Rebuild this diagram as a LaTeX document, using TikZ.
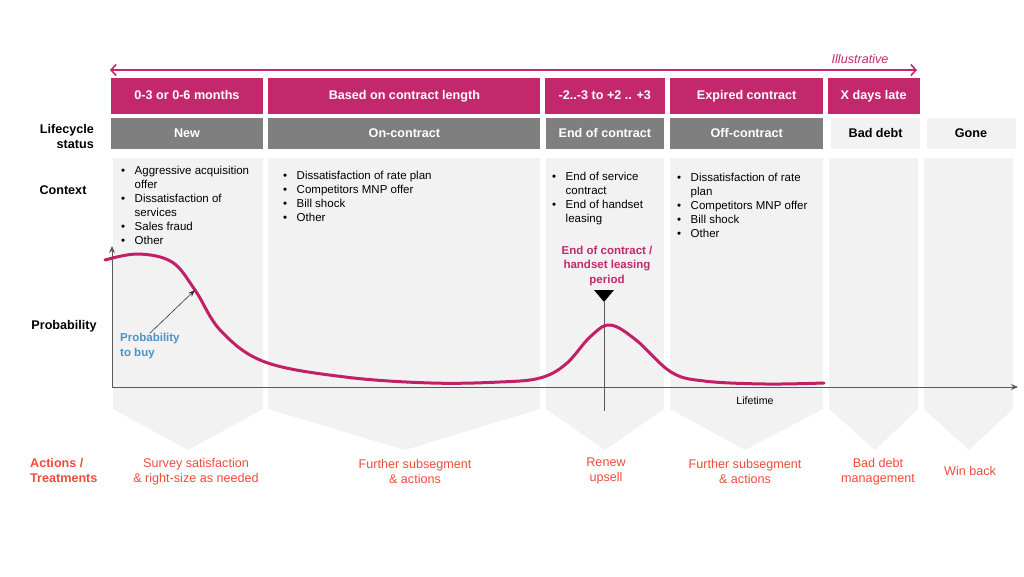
\documentclass[tikz,border=0pt]{standalone}
\usepackage{fontspec}
\setmainfont{Liberation Sans}
\usetikzlibrary{positioning,arrows.meta}
\definecolor{berry}{HTML}{C4286C}
\definecolor{curvepink}{HTML}{C21F66}
\definecolor{midgray}{HTML}{7F7F7F}
\definecolor{palegray}{HTML}{F2F2F2}
\definecolor{coral}{HTML}{F04B3A}
\definecolor{skyblue}{HTML}{4F92C4}
\definecolor{axisgray}{HTML}{595959}

\begin{document}
\begin{tikzpicture}[x=1pt, y=-1pt,
    every node/.style={inner sep=0pt, font=\fontsize{11.5}{14}\selectfont},
    period/.style={fill=berry, text=white, minimum height=36pt, text height=9pt, text depth=2.7pt, font=\fontsize{12.6}{15}\selectfont\bfseries},
    status/.style={fill=midgray, text=white, minimum height=31pt, text height=9pt, text depth=2.7pt, font=\fontsize{12.6}{15}\selectfont\bfseries},
    lightstatus/.style={status, fill=palegray, text=black},
    rowlabel/.style={font=\fontsize{12.6}{15}\selectfont\bfseries},
    bullets/.style={anchor=north west},
    action/.style={text=coral, align=center, font=\fontsize{12.6}{15}\selectfont}]
    \useasboundingbox (0,0) rectangle (1024,576);

    % column backgrounds with chevrons
    \foreach \l/\r/\m in {113/263/188, 268/540/405, 546/664/605, 670/823/745, 829/918/875, 924/1013/969}
        \fill[palegray] (\l,158) -- (\r,158) -- (\r,409) -- (\m,450) -- (\l,409) -- cycle;

    % periods
    \node (p1) [period, minimum width=152pt] at (187,96) {0-3 or 0-6 months};
    \node (p2) [period, minimum width=272pt, right=5pt of p1] {Based on contract length};
    \node (p3) [period, minimum width=120pt, right=4pt of p2] {-2..-3 to +2 .. +3};
    \node (p4) [period, minimum width=153pt, right=5pt of p3] {Expired contract};
    \node (p5) [period, minimum width=92pt, right=4pt of p4] {X days late};

    % lifecycle status
    \node (s1) [status, minimum width=152pt, below=4pt of p1] {New};
    \node (s2) [status, minimum width=272pt, below=4pt of p2] {On-contract};
    \node (s3) [status, minimum width=118pt, below=4pt of p3] {End of contract};
    \node (s4) [status, minimum width=153pt, below=4pt of p4] {Off-contract};
    \node (s5) [lightstatus, minimum width=89pt, below=4pt of p5, xshift=2pt] {Bad debt};
    \node (s6) [lightstatus, minimum width=89pt, right=6pt of s5] {Gone};

    % row labels
    \node (lifecycle) [rowlabel, align=right, anchor=east] at (94,136) {Lifecycle\\status};
    \node (context) [rowlabel] at (63,190) {Context};
    \node (prob) [rowlabel] at (64,326) {Probability};
    \node (actions) [rowlabel, text=coral, align=left, anchor=west] at (30,470) {Actions /\\Treatments};

    % context
    \node (c1) [bullets] at (121,164) {\begin{tabular}{@{}l@{\hspace{9.5pt}}l@{}}
        \textbullet & Aggressive acquisition\\ & offer\\
        \textbullet & Dissatisfaction of\\ & services\\
        \textbullet & Sales fraud\\
        \textbullet & Other\end{tabular}};
    \node (c2) [bullets] at (283,169) {\begin{tabular}{@{}l@{\hspace{9.5pt}}l@{}}
        \textbullet & Dissatisfaction of rate plan\\
        \textbullet & Competitors MNP offer\\
        \textbullet & Bill shock\\
        \textbullet & Other\end{tabular}};
    \node (c3) [bullets] at (552,170) {\begin{tabular}{@{}l@{\hspace{9.5pt}}l@{}}
        \textbullet & End of service\\ & contract\\
        \textbullet & End of handset\\ & leasing\end{tabular}};
    \node (c4) [bullets] at (677,171) {\begin{tabular}{@{}l@{\hspace{9.5pt}}l@{}}
        \textbullet & Dissatisfaction of rate\\ & plan\\
        \textbullet & Competitors MNP offer\\
        \textbullet & Bill shock\\
        \textbullet & Other\end{tabular}};

    % timeline arrow
    \coordinate (spanl) at (110,70);
    \coordinate (spanr) at (917,70);
    \draw[berry, line width=1.6pt, {Straight Barb[length=5pt,width=11pt]}-{Straight Barb[length=5pt,width=11pt]}] (spanl) -- (spanr);
    \node (illus) [text=berry, font=\fontsize{12.6}{15}\selectfont\itshape] at (860,59) {Illustrative};

    % axes
    \coordinate (origin) at (112,387);
    \coordinate (ytop) at (112,246);
    \coordinate (xend) at (1018,387);
    \draw[axisgray, line width=1pt, -{Stealth[length=7pt,width=6pt]}] (origin) -- (ytop);
    \draw[axisgray, line width=1pt, -{Stealth[length=7pt,width=6pt]}] (origin) -- (xend);
    \node (lifetime) [font=\fontsize{10.6}{12}\selectfont] at (755,401) {Lifetime};

    % end of contract marker
    \coordinate (mark) at (604,302);
    \coordinate (markfoot) at (604,411);
    \fill (594,290) -- (614,290) -- (mark) -- cycle;
    \draw[axisgray, line width=0.9pt] (mark) -- (markfoot);
    \node (eoc) [text=berry, align=center, font=\fontsize{11.5}{14.5}\selectfont\bfseries] at (607,266) {End of contract /\\handset leasing\\period};

    % probability curve
    \draw[curvepink, line width=3pt, line cap=round] plot[smooth, tension=0.6] coordinates {(105,260) (138,254) (172,262) (195,290) (221,331) (265,362) (345,377) (431,383) (500,382) (540,378) (566,364) (590,337) (610,325) (636,340) (671,372) (704,381) (765,384) (824,383)};

    \node (buy) [text=skyblue, align=left, anchor=west, font=\fontsize{11.5}{14.5}\selectfont\bfseries] at (120,346) {Probability\\to buy};
    \coordinate (buytip) at (195,290);
    \draw[black!80, line width=0.6pt, -{Stealth[length=7pt,width=5pt]}] (buy.north) -- (buytip);

    % actions
    \node (a1) [action] at (196,472) {Survey satisfaction\\\& right-size as needed};
    \node (a2) [action] at (415,471) {Further subsegment\\\& actions};
    \node (a3) [action] at (606,471) {Renew\\upsell};
    \node (a4) [action] at (745,471) {Further subsegment\\\& actions};
    \node (a5) [action] at (878,472) {Bad debt\\management};
    \node (a6) [action] at (970,471) {Win back};
\end{tikzpicture}
\end{document}
